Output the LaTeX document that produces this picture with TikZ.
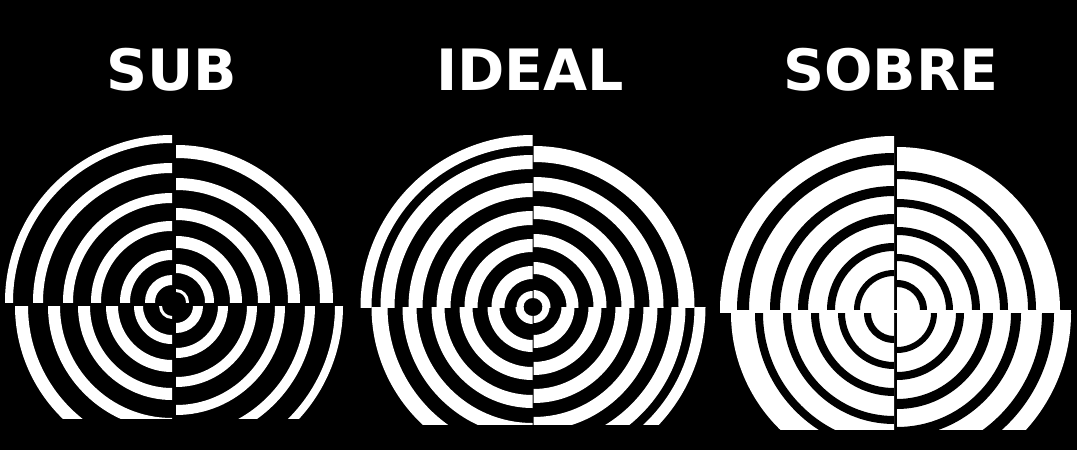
\documentclass[tikz,border=0pt]{standalone}
\usepackage{fontspec}
\setmainfont{DejaVu Sans}
\usepackage{tikz}

\begin{document}
\begin{tikzpicture}[x=1pt, y=-1pt,
    heading/.style={text=white, inner sep=0pt, anchor=base, font=\fontsize{57}{60}\selectfont\bfseries},
    ring/.style={fill=white, even odd rule},
    dark/.style={fill=black, even odd rule}]
    % black background, fixes the size too
    \fill[black] (0,0) rectangle (1077,450);

    % titles
    \node[heading] (sub) at (171.5,90) {SUB};
    \node[heading] (ideal) at (530,90) {IDEAL};
    \node[heading] (sobre) at (891,90) {SOBRE};

    % panel 1: sub (thin white rings, quadrants out of step)
    \coordinate (subUL) at (172,302);
    \coordinate (subUR) at (176,302);
    \coordinate (subLL) at (172,306);
    \coordinate (subLR) at (176,306);
    \begin{scope}
        \clip (5,135) rectangle (172,302);
        \foreach \a/\b in {17/27,42/52,71/81,99/109,129/139,159/167}
            \fill[ring] (subUL) circle (\b) (subUL) circle (\a);
    \end{scope}
    \begin{scope}
        \clip (176,145) rectangle (333,302);
        \foreach \a/\b in {10/13,29/38,54/66,82/94,112/124,144/157}
            \fill[ring] (subUR) circle (\b) (subUR) circle (\a);
    \end{scope}
    \begin{scope}
        \clip (13,306) rectangle (172,418);
        \foreach \a/\b in {10/13,29/38,54/66,82/94,112/124,144/157}
            \fill[ring] (subLL) circle (\b) (subLL) circle (\a);
    \end{scope}
    \begin{scope}
        \clip (176,306) rectangle (343,418);
        \foreach \a/\b in {17/27,42/52,71/81,99/109,129/139,159/167}
            \fill[ring] (subLR) circle (\b) (subLR) circle (\a);
    \end{scope}

    % panel 2: ideal (even black and white rings)
    \coordinate (idlUL) at (532.5,307);
    \coordinate (idlUR) at (533.5,307);
    \coordinate (idlLL) at (532.5,307);
    \coordinate (idlLR) at (533.5,307);
    \begin{scope}
        \clip (360,135) rectangle (532.5,307);
        \foreach \a/\b in {9/16,28/41,55/68,82/96,110/124,138/152,161/172}
            \fill[ring] (idlUL) circle (\b) (idlUL) circle (\a);
    \end{scope}
    \begin{scope}
        \clip (533.5,146) rectangle (695,307);
        \foreach \a/\b in {9/17,33/45,60/73,88/101,116/130,145/161}
            \fill[ring] (idlUR) circle (\b) (idlUR) circle (\a);
    \end{scope}
    \begin{scope}
        \clip (371,307) rectangle (532.5,424);
        \foreach \a/\b in {9/17,33/45,60/73,88/101,116/130,145/161}
            \fill[ring] (idlLL) circle (\b) (idlLL) circle (\a);
    \end{scope}
    \begin{scope}
        \clip (533.5,307) rectangle (706,424);
        \foreach \a/\b in {9/16,28/41,55/68,82/96,110/124,138/152,161/172}
            \fill[ring] (idlLR) circle (\b) (idlLR) circle (\a);
    \end{scope}

    % panel 3: sobre (mostly white, thin black rings)
    \coordinate (sobUL) at (894,310);
    \coordinate (sobUR) at (897,310);
    \coordinate (sobLL) at (894,313);
    \coordinate (sobLR) at (897,313);
    \begin{scope}
        \clip (720,136) rectangle (894,310);
        \fill[white] (sobUL) circle (174);
        \foreach \a/\b in {34/40,59/67,86/96,114/124,145/157}
            \fill[dark] (sobUL) circle (\b) (sobUL) circle (\a);
    \end{scope}
    \begin{scope}
        \clip (897,147) rectangle (1060,310);
        \fill[white] (sobUR) circle (163);
        \foreach \a/\b in {23/30,49/56,75/83,103/111,131/139}
            \fill[dark] (sobUR) circle (\b) (sobUR) circle (\a);
    \end{scope}
    \begin{scope}
        \clip (731,313) rectangle (894,429);
        \fill[white] (sobLL) circle (163);
        \foreach \a/\b in {23/30,49/56,75/83,103/111,131/139}
            \fill[dark] (sobLL) circle (\b) (sobLL) circle (\a);
    \end{scope}
    \begin{scope}
        \clip (897,313) rectangle (1071,429);
        \fill[white] (sobLR) circle (174);
        \foreach \a/\b in {34/40,59/67,86/96,114/124,145/157}
            \fill[dark] (sobLR) circle (\b) (sobLR) circle (\a);
    \end{scope}
    \fill[white] (720,310) rectangle (1071,312.5);
\end{tikzpicture}
\end{document}
